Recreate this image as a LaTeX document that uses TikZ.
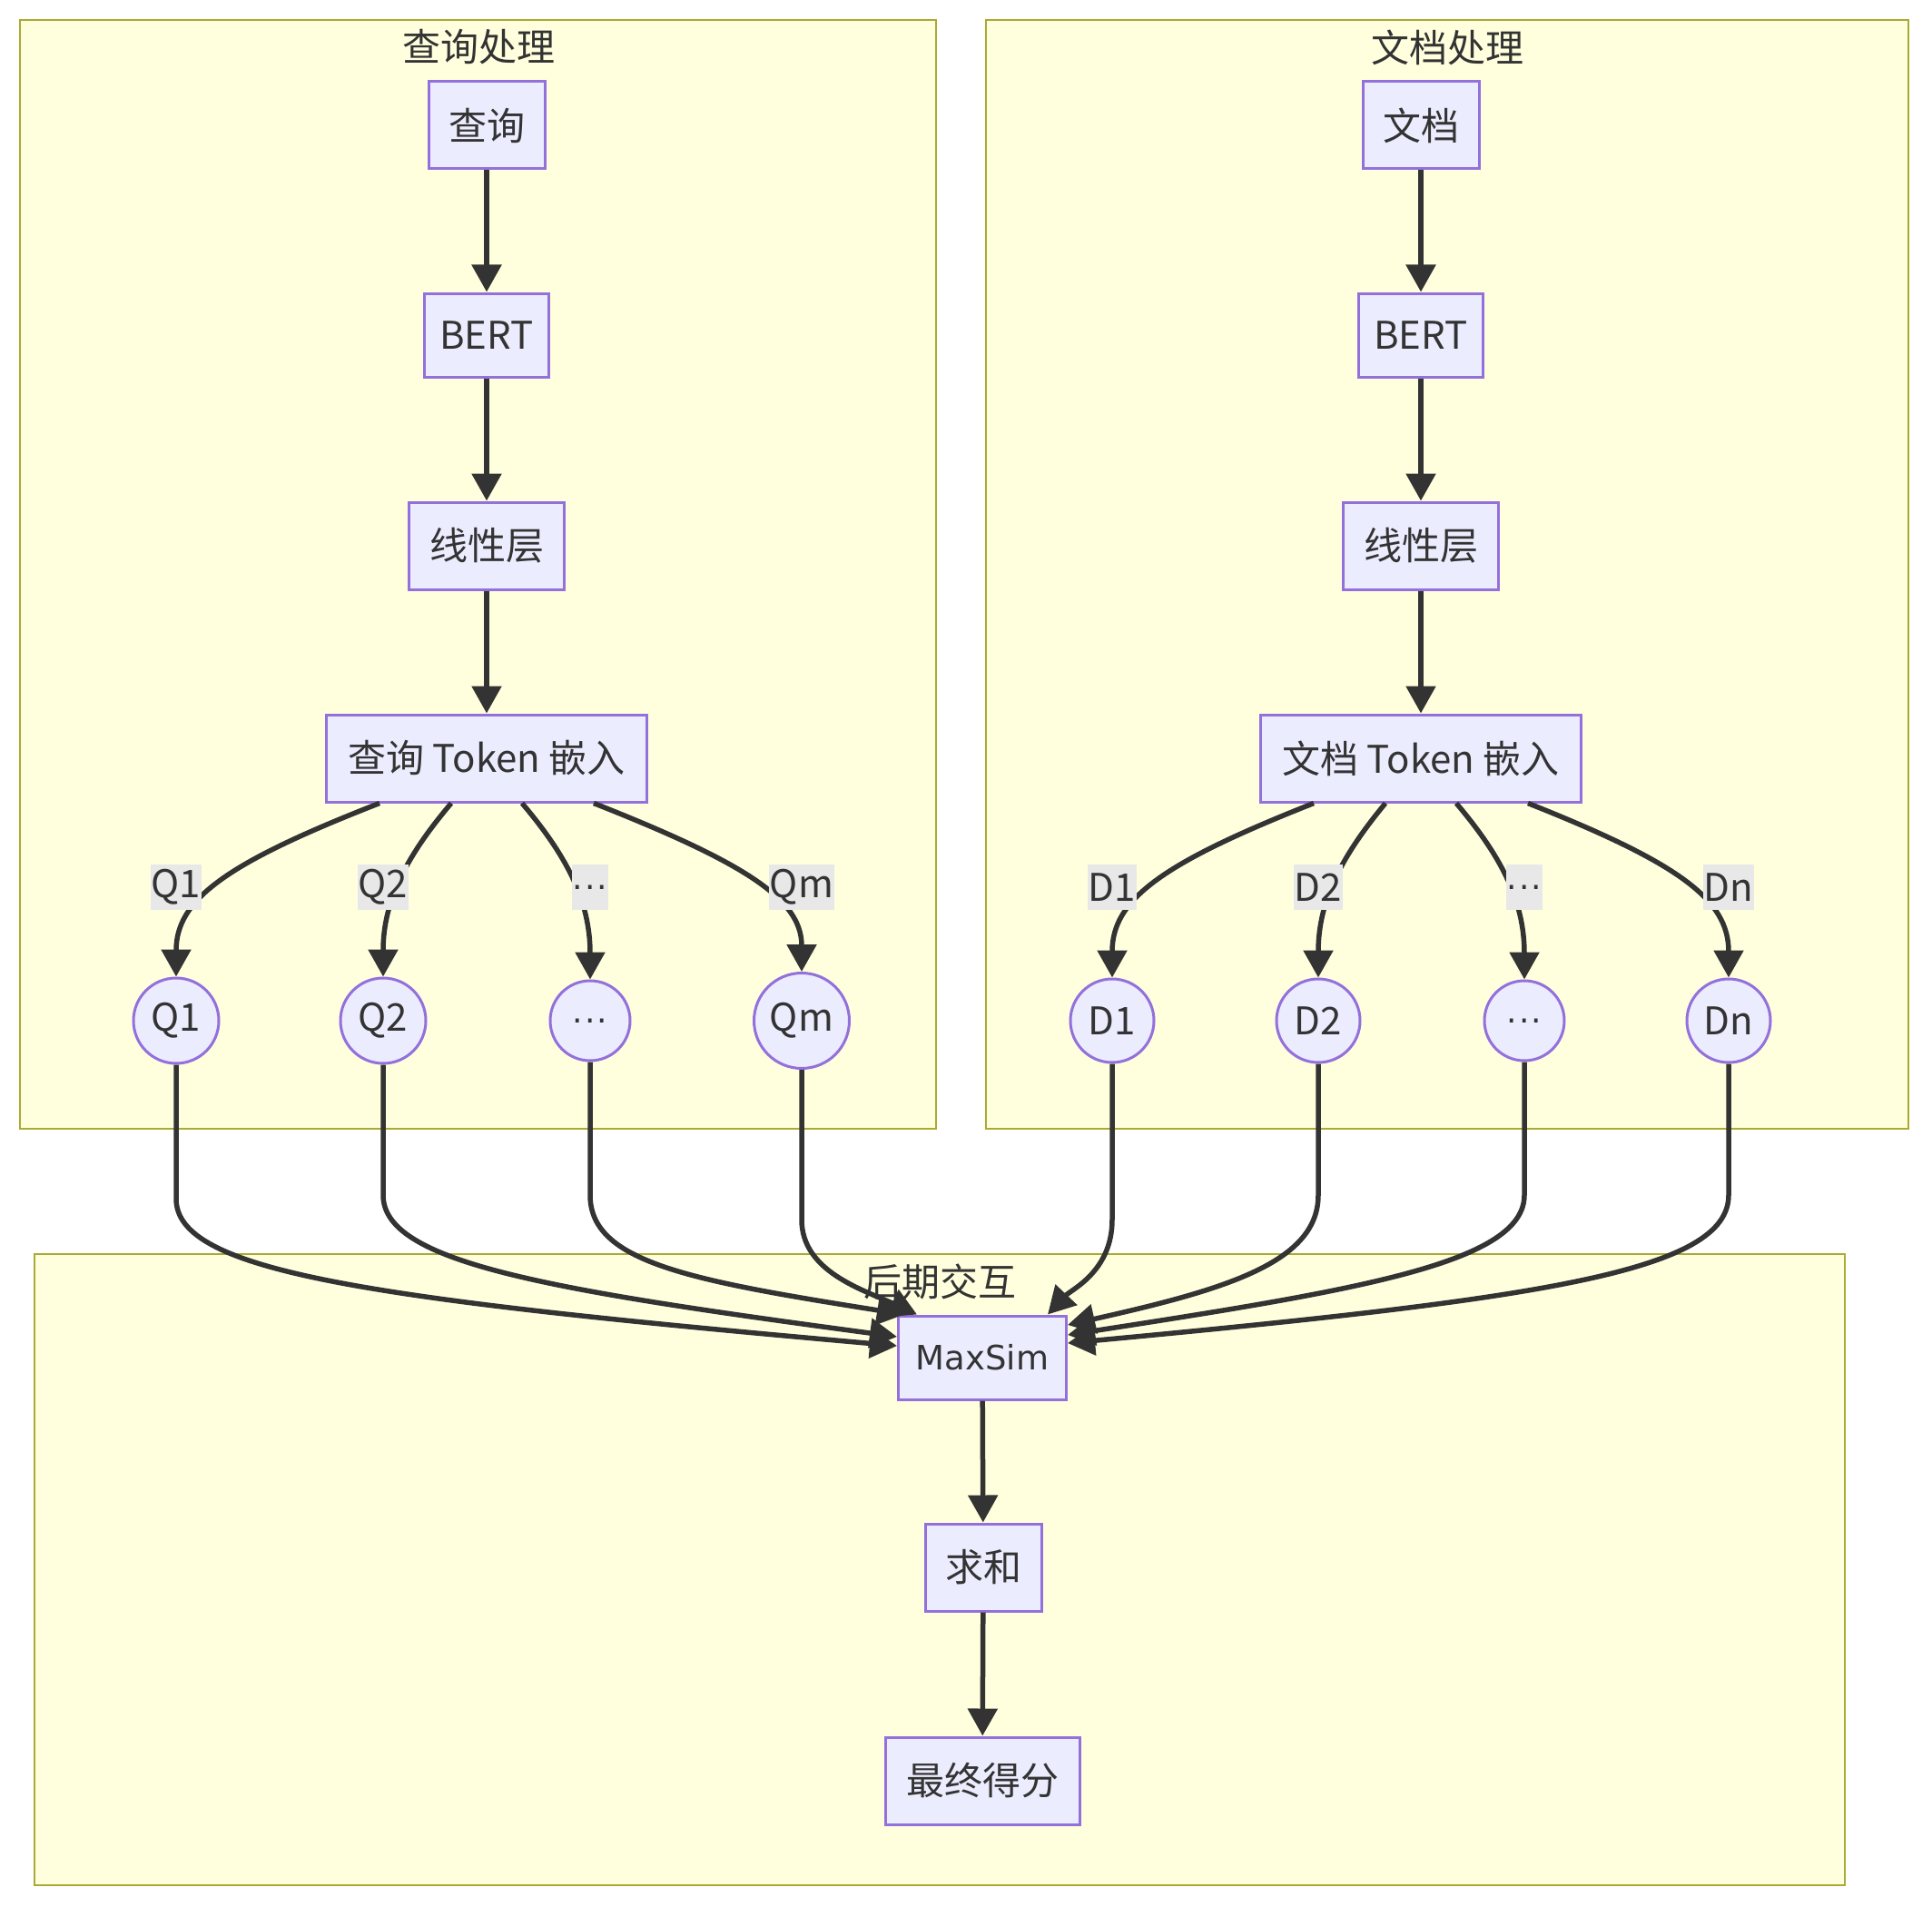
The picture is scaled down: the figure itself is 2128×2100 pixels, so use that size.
\documentclass[tikz,border=0pt]{standalone}
\usepackage{fontspec}
\setmainfont{Noto Sans CJK SC}
\newfontfamily\msfont{DejaVu Sans}
\usetikzlibrary{arrows.meta}
\definecolor{clfill}{HTML}{FFFFDE}
\definecolor{clborder}{HTML}{AAAA33}
\definecolor{ndfill}{HTML}{ECECFF}
\definecolor{ndborder}{HTML}{9370DB}
\definecolor{edgec}{HTML}{333333}
\definecolor{lblbg}{HTML}{E8E8E8}
\newcommand{\mydots}{{\msfont\fontsize{36}{44}\selectfont .\kern2pt.\kern2pt.}}
\begin{document}
\begin{tikzpicture}[x=1pt,y=-1pt,
  font=\fontsize{42}{50}\selectfont,
  cluster/.style={draw=clborder,fill=clfill,line width=2.5pt},
  cltitle/.style={text=edgec,inner sep=0pt},
  box/.style={draw=ndborder,fill=ndfill,line width=3pt,text=edgec,minimum height=96pt,inner sep=0pt},
  tok/.style={draw=ndborder,fill=ndfill,line width=3pt,text=edgec,circle,inner sep=0pt},
  lbl/.style={fill=lblbg,text=edgec,inner sep=1pt,minimum height=50pt},
  conn/.style={draw=edgec,line width=5.5pt,-{Triangle[length=30pt,width=32pt]}}]
\useasboundingbox (0,0) rectangle (2128,2100);
\fill[white] (0,0) rectangle (2128,2100);
% clusters
\draw[cluster] (22,22) rectangle (1031,1243);
\draw[cluster] (1086,22) rectangle (2102,1243);
\draw[cluster] (38,1381) rectangle (2032,2076);
\node[cltitle] (tq) at (527,52) {查询处理};
\node[cltitle] (td) at (1594,52) {文档处理};
\node[cltitle] (tl) at (1035,1411) {后期交互};
% query nodes
\node[box,minimum width=128pt] (q0) at (536,138) {查询};
\node[box,minimum width=137pt,minimum height=92pt] (q1) at (536,369) {BERT};
\node[box,minimum width=171pt] (q2) at (536,601) {线性层};
\node[box,minimum width=353pt] (q3) at (536,835) {查询 Token 嵌入};
\node[tok,minimum size=94pt] (qa) at (194,1124) {Q1};
\node[tok,minimum size=94pt] (qb) at (422,1124) {Q2};
\node[tok,minimum size=88pt] (qc) at (650,1124) {\mydots};
\node[tok,minimum size=105pt] (qd) at (883,1124) {Qm};
% doc nodes
\node[box,minimum width=128pt] (d0) at (1565,138) {文档};
\node[box,minimum width=137pt,minimum height=92pt] (d1) at (1565,369) {BERT};
\node[box,minimum width=171pt] (d2) at (1565,601) {线性层};
\node[box,minimum width=353pt] (d3) at (1565,835) {文档 Token 嵌入};
\node[tok,minimum size=92pt] (da) at (1225,1124) {D1};
\node[tok,minimum size=92pt] (db) at (1452,1124) {D2};
\node[tok,minimum size=88pt] (dc) at (1679,1124) {\mydots};
\node[tok,minimum size=92pt] (dd) at (1904,1124) {Dn};
% late interaction
\node[box,minimum width=185pt,minimum height=92pt] (ms) at (1082,1495) {\msfont\fontsize{37}{44}\selectfont MaxSim};
\node[box,minimum width=128pt] (sm) at (1083,1726) {求和};
\node[box,minimum width=214pt] (fs) at (1082,1961) {最终得分};
% vertical chains
\draw[conn] (q0) -- (q1);
\draw[conn] (q1) -- (q2);
\draw[conn] (q2) -- (q3);
\draw[conn] (d0) -- (d1);
\draw[conn] (d1) -- (d2);
\draw[conn] (d2) -- (d3);
\draw[conn] (ms) -- (sm);
\draw[conn] (sm) -- (fs);
% fan out
\draw[conn] ([xshift=-118pt]q3.south) .. controls (250,950) and (194,990) .. (qa.north);
\draw[conn] ([xshift=-39pt]q3.south) .. controls (450,940) and (422,990) .. (qb.north);
\draw[conn] ([xshift=39pt]q3.south) .. controls (622,940) and (650,990) .. (qc.north);
\draw[conn] ([xshift=118pt]q3.south) .. controls (820,950) and (883,990) .. (qd.north);
\draw[conn] ([xshift=-118pt]d3.south) .. controls (1281,950) and (1225,990) .. (da.north);
\draw[conn] ([xshift=-39pt]d3.south) .. controls (1480,940) and (1452,990) .. (db.north);
\draw[conn] ([xshift=39pt]d3.south) .. controls (1651,940) and (1679,990) .. (dc.north);
\draw[conn] ([xshift=118pt]d3.south) .. controls (1848,950) and (1904,990) .. (dd.north);
% edge labels
\node[lbl] (la) at (194,977) {Q1};
\node[lbl] (lb) at (422,977) {Q2};
\node[lbl] (lc) at (650,977) {\mydots};
\node[lbl] (ld) at (883,977) {Qm};
\node[lbl] (le) at (1225,977) {D1};
\node[lbl] (lf) at (1452,977) {D2};
\node[lbl] (lg) at (1679,977) {\mydots};
\node[lbl] (lh) at (1904,977) {Dn};
% fan in
\coordinate (ea) at ([yshift=13pt]ms.west);
\coordinate (eb) at ([yshift=23pt]ms.west);
\coordinate (ec) at ([xshift=8pt]ms.north west);
\coordinate (ed) at ([xshift=22pt]ms.north west);
\coordinate (ee) at ([xshift=-22pt]ms.north east);
\coordinate (ef) at ([yshift=36pt]ms.east);
\coordinate (eg) at ([yshift=25pt]ms.east);
\coordinate (eh) at ([yshift=16pt]ms.east);
\draw[conn] (qa.south) -- (194,1320) .. controls (194,1400) and (400,1430) .. (ea);
\draw[conn] (qb.south) -- (422,1316) .. controls (422,1390) and (600,1420) .. (eb);
\draw[conn] (qc.south) -- (650,1316) .. controls (650,1390) and (760,1410) .. (ec);
\draw[conn] (qd.south) -- (883,1343) .. controls (883,1400) and (950,1420) .. (ed);
\draw[conn] (da.south) -- (1225,1343) .. controls (1225,1400) and (1180,1420) .. (ee);
\draw[conn] (db.south) -- (1452,1316) .. controls (1452,1390) and (1350,1420) .. (ef);
\draw[conn] (dc.south) -- (1679,1316) .. controls (1679,1390) and (1500,1420) .. (eg);
\draw[conn] (dd.south) -- (1904,1316) .. controls (1904,1400) and (1700,1430) .. (eh);
\end{tikzpicture}
\end{document}
